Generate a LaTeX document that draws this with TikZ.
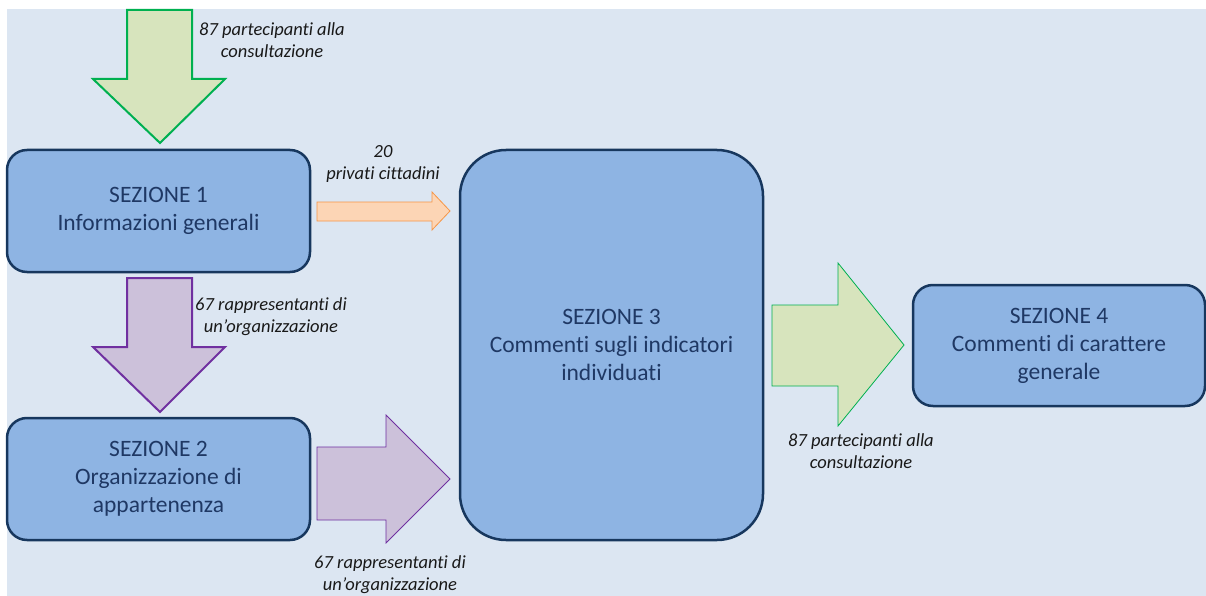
\documentclass[tikz,border=0pt]{standalone}
\usepackage{fontspec}
\setmainfont{Carlito}[Ligatures={NoCommon}]
\definecolor{bgc}{HTML}{DCE6F2}
\definecolor{boxfill}{HTML}{8EB4E3}
\definecolor{boxline}{HTML}{17375E}
\definecolor{boxtext}{HTML}{1F3864}
\definecolor{gfill}{HTML}{D7E4BD}
\definecolor{gline}{HTML}{00B050}
\definecolor{pfill}{HTML}{CCC1DA}
\definecolor{pline}{HTML}{7030A0}
\definecolor{ofill}{HTML}{FCD5B5}
\definecolor{oline}{HTML}{F79646}
\begin{document}
\begin{tikzpicture}[x=1pt,y=-1pt,
  sectbox/.style={draw=boxline,fill=boxfill,line width=2.5pt,rounded corners=20pt,
    inner sep=0pt,align=center,text=boxtext,font=\fontsize{23.5}{28}\selectfont},
  lbl/.style={align=center,inner sep=0pt,text={black!90},font=\fontsize{18.5}{22}\selectfont\itshape},
  greenbig/.style={draw=gline,fill=gfill,line width=2pt,line join=miter},
  greenthin/.style={draw=gline,fill=gfill,line width=0.8pt,line join=miter},
  purplebig/.style={draw=pline,fill=pfill,line width=2pt,line join=miter},
  purplethin/.style={draw=pline,fill=pfill,line width=0.8pt,line join=miter},
  orangethin/.style={draw=oline,fill=ofill,line width=0.8pt,line join=miter}]
\useasboundingbox (0,0) rectangle (1206,596);
\fill[bgc] (7,9) rectangle (1206,596);
% boxes
\node[sectbox,minimum width=303pt,minimum height=122pt] (s1) at (158.5,211) {SEZIONE 1\\Informazioni generali};
\node[sectbox,minimum width=303pt,minimum height=122pt] (s2) at (158.5,479) {SEZIONE 2\\Organizzazione di\\appartenenza};
\node[sectbox,rounded corners=46pt,minimum width=303pt,minimum height=390pt] (s3) at (611.5,345) {SEZIONE 3\\Commenti sugli indicatori\\individuati};
\node[sectbox,minimum width=292pt,minimum height=121pt] (s4) at (1059,345.5) {SEZIONE 4\\Commenti di carattere\\generale};
% top green arrow into s1
\coordinate (tipA) at (160,143);
\draw[greenbig] (127,10) -- (192,10) -- (192,79) -- (225,79) -- (tipA) -- (93,79) -- (127,79) -- cycle;
% purple arrow s1 -> s2
\coordinate (tipB) at (160,412);
\draw[purplebig] (127,278) -- (192,278) -- (192,347) -- (225,347) -- (tipB) -- (93,347) -- (127,347) -- cycle;
% orange arrow s1 -> s3
\coordinate (tipC) at (450,211);
\draw[orangethin] (317,202) -- (432,202) -- (432,192) -- (tipC) -- (432,230) -- (432,221) -- (317,221) -- cycle;
% purple arrow s2 -> s3
\coordinate (tipD) at (450,479);
\draw[purplethin] (317,447) -- (386,447) -- (386,415) -- (tipD) -- (386,543) -- (386,520) -- (317,520) -- cycle;
% green arrow s3 -> s4
\coordinate (tipE) at (904,345);
\draw[greenthin] (772,305) -- (838,305) -- (838,263) -- (tipE) -- (838,426) -- (838,386) -- (772,386) -- cycle;
% labels
\node[lbl] (l1) at (272,40) {87 partecipanti alla\\consultazione};
\node[lbl] (l2) at (383,164) {20\\privati cittadini};
\node[lbl] (l3) at (271,316.5) {67 rappresentanti di\\un’organizzazione};
\node[lbl] (l4) at (390,575) {67 rappresentanti di\\un’organizzazione};
\node[lbl] (l5) at (861,451) {87 partecipanti alla\\consultazione};
\end{tikzpicture}
\end{document}
